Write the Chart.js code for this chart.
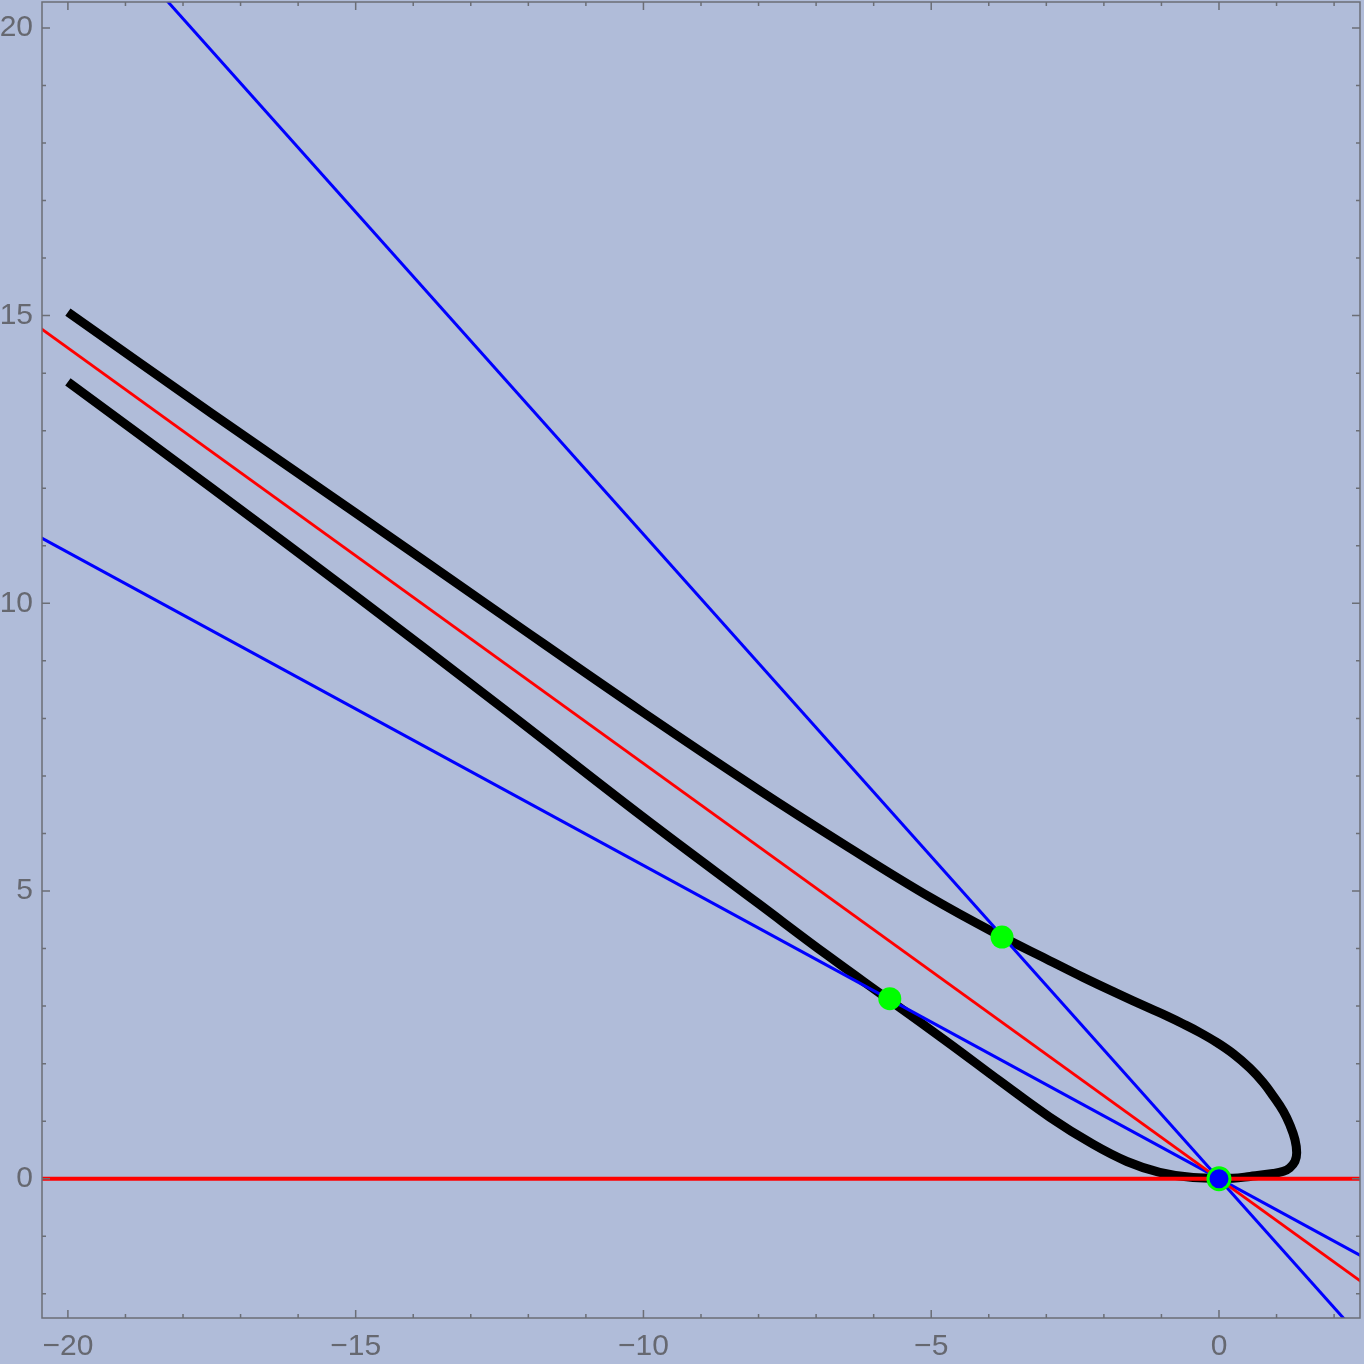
<!DOCTYPE html>
<html lang="en">
<head>
  <meta charset="UTF-8">
  <title>Curve with tangent lines</title>
  <script src="https://cdn.jsdelivr.net/npm/chart.js"></script>
  <style>
    body {
      margin: 0;
      background-color: #b0bcd9;
    }
    canvas {
      display: block;
    }
  </style>
</head>
<body>
  <canvas id="curveChart" width="1364" height="1364"></canvas>

  <script>
    // black curve (lower branch -> loop -> upper branch)
    const curveX = [-20, -17.5, -15, -12.5, -10, -8, -6.8, -5.72, -4.67, -3.81, -2.94, -2.19, -1.6, -1.03, -0.45,
      0.24, 0.54, 0.94, 1.12, 1.23, 1.32, 1.35, 1.32, 1.23, 1.12, 0.94, 0.77, 0.54, 0.25, -0.04, -0.33, -0.62,
      -0.91, -1.2, -1.8, -2.36, -3.0, -3.76, -5, -6.5, -8, -10, -12.5, -15, -17.5, -20];
    const curveY = [13.85, 12.0, 10.13, 8.22, 6.28, 4.78, 3.88, 3.1, 2.34, 1.7, 1.07, 0.6, 0.3, 0.11, 0.02,
      0.01, 0.04, 0.09, 0.13, 0.19, 0.3, 0.45, 0.68, 0.94, 1.17, 1.44, 1.67, 1.92, 2.17, 2.37, 2.54, 2.69,
      2.83, 2.96, 3.235, 3.5, 3.82, 4.2, 4.88, 5.8, 6.76, 8.1, 9.83, 11.57, 13.3, 15.06];

    // straight lines, two end points each
    const lineX = [-21, 3];
    const redFlatY = [0, 0];
    const redDiagY = [15.16, -2.17];
    const blueSteepX = [-19, 2.5];
    const blueSteepY = [21.28, -2.8];
    const blueShallowY = [11.43, -1.63];

    // marked points
    const greenX = [-3.77, -5.72];
    const greenY = [4.2, 3.13];
    const originX = [0];
    const originY = [0];

    const xMin = -20.45, xMax = 2.45;
    const yMin = -2.42, yMax = 20.45;

    function pts(xs, ys) {
      return xs.map((x, i) => ({ x: x, y: ys[i] }));
    }

    function fmt(v) {
      return v < 0 ? '\u2212' + Math.abs(v) : String(v);
    }

    const bgColor = '#b0bcd9';
    const frameColor = '#6b6e76';

    const framePlugin = {
      id: 'frame',
      beforeDraw(chart) {
        const c = chart.ctx;
        c.save();
        c.fillStyle = bgColor;
        c.fillRect(0, 0, chart.width, chart.height);
        c.restore();
      },
      afterDraw(chart) {
        const c = chart.ctx;
        const a = chart.chartArea;
        const xs = chart.scales.x;
        const ys = chart.scales.y;
        c.save();
        c.strokeStyle = frameColor;
        c.lineWidth = 1.5;
        c.strokeRect(a.left, a.top, a.right - a.left, a.bottom - a.top);
        c.beginPath();
        for (let v = -20; v <= 2; v++) {
          const len = v % 5 === 0 ? 8 : 4;
          const px = xs.getPixelForValue(v);
          c.moveTo(px, a.bottom); c.lineTo(px, a.bottom - len);
          c.moveTo(px, a.top); c.lineTo(px, a.top + len);
        }
        for (let v = -2; v <= 20; v++) {
          const len = v % 5 === 0 ? 8 : 4;
          const py = ys.getPixelForValue(v);
          c.moveTo(a.left, py); c.lineTo(a.left + len, py);
          c.moveTo(a.right, py); c.lineTo(a.right - len, py);
        }
        c.stroke();
        c.restore();
      }
    };

    function lineSet(data, color, width, order) {
      return {
        data: data,
        showLine: true,
        borderColor: color,
        borderWidth: width,
        pointRadius: 0,
        clip: 0,
        order: order
      };
    }

    const tickFont = { family: 'Liberation Sans, Arial, sans-serif', size: 30 };

    new Chart(document.getElementById('curveChart'), {
      type: 'scatter',
      data: {
        datasets: [
          Object.assign(lineSet(pts(curveX, curveY), '#000000', 9, 5), { tension: 0.4 }),
          lineSet(pts(blueSteepX, blueSteepY), '#0000ff', 3, 3),
          lineSet(pts(lineX, blueShallowY), '#0000ff', 3, 3),
          lineSet(pts(lineX, redDiagY), '#ff0000', 3, 2),
          lineSet(pts(lineX, redFlatY), '#ff0000', 4, 2),
          {
            data: pts(greenX, greenY),
            pointRadius: 11.5,
            pointBackgroundColor: '#00ff00',
            pointBorderWidth: 0,
            order: 1
          },
          {
            data: pts(originX, originY),
            pointRadius: 11,
            pointBackgroundColor: '#0000ff',
            pointBorderColor: '#00ff00',
            pointBorderWidth: 3,
            order: 0
          }
        ]
      },
      options: {
        responsive: false,
        animation: false,
        layout: { autoPadding: false, padding: { top: 2, right: 4, left: 0, bottom: 0 } },
        plugins: {
          legend: { display: false },
          tooltip: { enabled: false }
        },
        scales: {
          x: {
            type: 'linear',
            min: xMin,
            max: xMax,
            grid: { display: false, drawTicks: false },
            border: { display: false },
            afterFit(scale) {
              scale.height = 46;
              scale.paddingLeft = 0;
              scale.paddingRight = 0;
            },
            ticks: {
              stepSize: 1,
              includeBounds: false,
              autoSkip: false,
              maxRotation: 0,
              padding: 11,
              color: '#666870',
              font: tickFont,
              callback: v => Math.abs(v % 5) < 1e-6 ? fmt(v) : ''
            }
          },
          y: {
            type: 'linear',
            min: yMin,
            max: yMax,
            grid: { display: false, drawTicks: false },
            border: { display: false },
            afterFit(scale) {
              scale.width = 42;
              scale.paddingTop = 0;
              scale.paddingBottom = 0;
            },
            ticks: {
              stepSize: 1,
              includeBounds: false,
              autoSkip: false,
              padding: 9,
              color: '#666870',
              font: tickFont,
              callback: v => Math.abs(v % 5) < 1e-6 ? fmt(v) : ''
            }
          }
        }
      },
      plugins: [framePlugin]
    });
  </script>
</body>
</html>
